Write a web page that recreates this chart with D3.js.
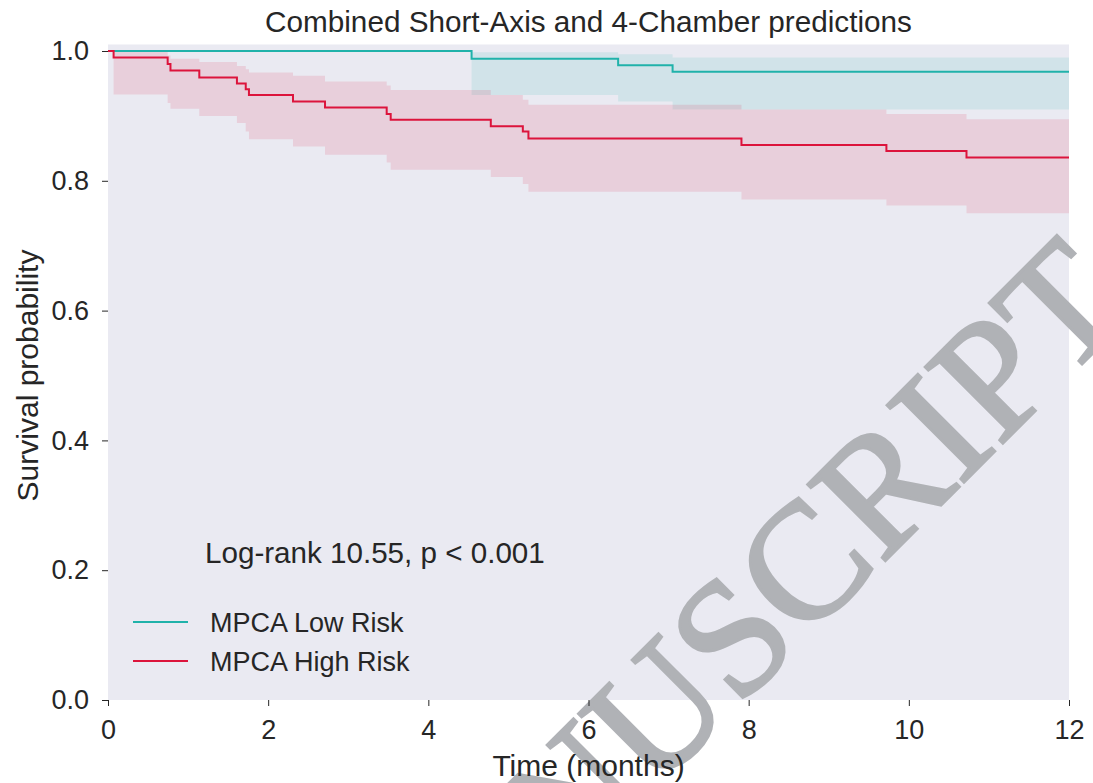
<!DOCTYPE html>
<html>
<head>
<meta charset="utf-8">
<script src="https://cdn.jsdelivr.net/npm/d3@7"></script>
<style>
  body { margin: 0; background: #fff; }
  text { font-family: "Liberation Sans", Arial, sans-serif; fill: #262626; }
</style>
</head>
<body>
<svg id="km" width="1093" height="783"></svg>
<script>
// Kaplan-Meier step data (time in months)
const lowTimes  = [0, 4.54, 6.37, 7.05];
const lowSurv   = [1.0, 0.988, 0.978, 0.968];
const lowUpper  = [1.0, 0.998, 0.995, 0.990];
const lowLower  = [1.0, 0.932, 0.922, 0.910];

const highTimes = [0, 0.07, 0.745, 0.78, 1.14, 1.61, 1.72, 1.76, 2.31, 2.71, 3.48, 3.53, 4.78, 5.18, 5.25, 7.91, 9.72, 10.72];
const highSurv  = [1.0, 0.990, 0.980, 0.970, 0.959, 0.950, 0.941, 0.932, 0.922, 0.913, 0.903, 0.894, 0.884, 0.876, 0.865, 0.855, 0.846, 0.836];
const highUpper = [1.0, 0.999, 0.993, 0.988, 0.983, 0.977, 0.972, 0.967, 0.962, 0.953, 0.947, 0.940, 0.932, 0.925, 0.917, 0.910, 0.903, 0.895];
const highLower = [1.0, 0.933, 0.920, 0.911, 0.900, 0.889, 0.876, 0.864, 0.853, 0.840, 0.828, 0.817, 0.806, 0.795, 0.783, 0.771, 0.762, 0.750];

const maxTime = 12;
const xTicks = [0, 2, 4, 6, 8, 10, 12];
const yTicks = [0.0, 0.2, 0.4, 0.6, 0.8, 1.0];

const seriesNames = ['MPCA Low Risk', 'MPCA High Risk'];
const seriesColors = ['#20b2aa', '#dc143c'];
const titleText = 'Combined Short-Axis and 4-Chamber predictions';
const statText = 'Log-rank 10.55, p < 0.001';

const margin = { top: 44.5, right: 24, bottom: 83, left: 108 };
const svg = d3.select('#km');
const width = +svg.attr('width');
const height = +svg.attr('height');

const x = d3.scaleLinear().domain([0, maxTime]).range([margin.left, width - margin.right]);
const y = d3.scaleLinear().domain([0, 1.01]).range([height - margin.bottom, margin.top]);

// turn arrays into step rows, closing each curve at the last time
const toRows = (t, s, u, l) => {
  const rows = t.map((d, i) => ({ t: d, s: s[i], u: u[i], l: l[i] }));
  const last = rows[rows.length - 1];
  rows.push({ t: maxTime, s: last.s, u: last.u, l: last.l });
  return rows;
};
const series = [
  { name: seriesNames[0], color: seriesColors[0], rows: toRows(lowTimes, lowSurv, lowUpper, lowLower) },
  { name: seriesNames[1], color: seriesColors[1], rows: toRows(highTimes, highSurv, highUpper, highLower) }
];

svg.append('rect')
  .attr('x', x(0))
  .attr('y', margin.top)
  .attr('width', x(maxTime) - x(0))
  .attr('height', y(0) - margin.top)
  .attr('fill', '#eaeaf2');

const area = d3.area()
  .curve(d3.curveStepAfter)
  .x(d => x(d.t))
  .y0(d => y(d.l))
  .y1(d => y(d.u));

const line = d3.line()
  .curve(d3.curveStepAfter)
  .x(d => x(d.t))
  .y(d => y(d.s));

svg.append('g')
  .selectAll('path')
  .data(series).enter().append('path')
  .attr('d', d => area(d.rows))
  .attr('fill', d => d.color)
  .attr('fill-opacity', 0.12);

svg.append('g')
  .selectAll('path')
  .data(series).enter().append('path')
  .attr('d', d => line(d.rows))
  .attr('fill', 'none')
  .attr('stroke', d => d.color)
  .attr('stroke-width', 2);

// watermark from the journal page (runs off the page like in the original)
svg.append('text')
  .attr('transform', 'translate(852,594)rotate(-45)')
  .attr('text-anchor', 'middle')
  .style('font-family', '"Liberation Serif", "Times New Roman", serif')
  .style('font-size', '166px')
  .style('fill', '#b0b2b6')
  .style('stroke', '#b0b2b6')
  .style('stroke-width', 3)
  .text('NUSCRIPT');

// axes: short outer ticks, no domain line
svg.append('g')
  .attr('transform', `translate(0,${y(0)})`)
  .call(d3.axisBottom(x).tickValues(xTicks).tickSize(6).tickPadding(14).tickFormat(d3.format('d')))
  .call(g => g.select('.domain').remove())
  .call(g => g.selectAll('line').attr('stroke', '#262626'))
  .call(g => g.selectAll('text').style('font-size', '27px').attr('fill', '#262626'));

svg.append('g')
  .attr('transform', `translate(${x(0)},0)`)
  .call(d3.axisLeft(y).tickValues(yTicks).tickSize(6).tickPadding(13).tickFormat(d3.format('.1f')))
  .call(g => g.select('.domain').remove())
  .call(g => g.selectAll('line').attr('stroke', '#262626'))
  .call(g => g.selectAll('text').style('font-size', '27px').attr('fill', '#262626'));

svg.append('text')
  .attr('x', (x(0) + x(maxTime)) / 2)
  .attr('y', 32)
  .attr('text-anchor', 'middle')
  .style('font-size', '29.7px')
  .text(titleText);

svg.append('text')
  .attr('x', (x(0) + x(maxTime)) / 2)
  .attr('y', 776)
  .attr('text-anchor', 'middle')
  .style('font-size', '30px')
  .text('Time (months)');

svg.append('text')
  .attr('transform', `translate(38,${(y(0) + y(1)) / 2})rotate(-90)`)
  .attr('text-anchor', 'middle')
  .style('font-size', '30px')
  .text('Survival probability');

svg.append('text')
  .attr('x', 205)
  .attr('y', 563)
  .style('font-size', '29.6px')
  .text(statText);

const legend = svg.append('g')
  .selectAll('g')
  .data(series).enter().append('g')
  .attr('transform', (d, i) => `translate(133,${622 + i * 39})`);

legend.append('line')
  .attr('x1', 0).attr('x2', 55)
  .attr('stroke', d => d.color)
  .attr('stroke-width', 2);

legend.append('text')
  .attr('x', 77)
  .attr('y', 10)
  .style('font-size', '27px')
  .text(d => d.name);
</script>
</body>
</html>
